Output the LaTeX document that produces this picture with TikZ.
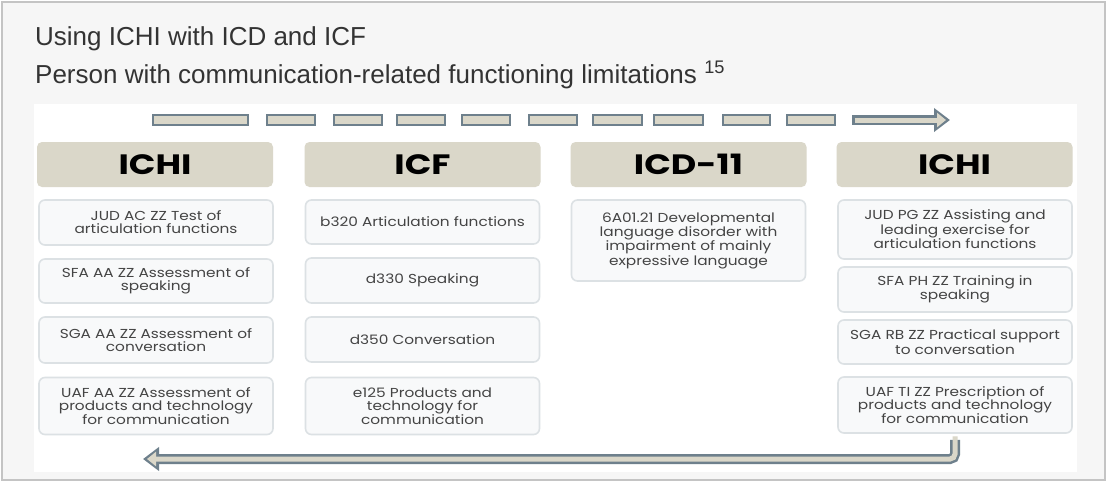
\documentclass[tikz,border=0pt]{standalone}
\usepackage{fontspec}
\setmainfont{Liberation Sans}
\newfontfamily\boxfont[FakeStretch=1.18]{Poppins}
\newfontfamily\headfont[FakeStretch=1.25]{Poppins}
\usetikzlibrary{arrows.meta}

\definecolor{slate}{HTML}{6E808C}
\definecolor{sand}{HTML}{DAD7C9}
\definecolor{itemline}{HTML}{DCE1E4}
\definecolor{itemfill}{HTML}{F8F9FA}
\definecolor{itemtext}{HTML}{444444}
\definecolor{pagebg}{HTML}{F6F6F6}
\definecolor{framegray}{HTML}{C4C4C4}
\definecolor{titlegray}{HTML}{333333}

\begin{document}
\begin{tikzpicture}[
		x=1pt, y=-1pt,
		head/.style={rectangle, rounded corners=5pt, fill=sand, minimum width=236pt, minimum height=45pt, font=\headfont\bfseries\fontsize{28}{30}\selectfont, text=black},
		item/.style={rectangle, rounded corners=6pt, draw=itemline, line width=1.6pt, fill=itemfill, minimum width=234pt, align=center, inner sep=2pt, font=\boxfont\fontsize{13}{13}\selectfont, text=itemtext},
		seg/.style={draw=slate, line width=2.4pt, fill=sand},
		flow/.style={draw=slate, line width=10pt, -{Triangle[length=16pt, width=23pt]},
			postaction={draw=sand, line width=5pt, shorten <=2.5pt, shorten >=4pt, -{Triangle[length=9pt, width=14pt]}}}
	]
		\useasboundingbox (0,0) rectangle (1107,482);
		
		% Frame and panel
		\draw[framegray, line width=2pt, fill=pagebg] (2,2) rectangle (1105,480);
		\fill[white] (34,104) rectangle (1077,472);
		
		% Titles
		\node[anchor=base west, inner sep=0pt, font=\fontsize{26}{30}\selectfont, text=titlegray] (title) at (35,45) {Using ICHI with ICD and ICF};
		\node[anchor=base west, inner sep=0pt, font=\fontsize{26}{30}\selectfont, text=titlegray] (subtitle) at (35,83) {Person with communication-related functioning limitations \textsuperscript{15}};
		
		% Dashed flow arrow
		\foreach \a/\b in {153/248,267/315,334/382,397/445,462/510,529/577,593/642,654/703,723/770,787/835}
			\draw[seg] (\a,115) rectangle (\b,125);
		\coordinate (flowA) at (852,120);
		\coordinate (flowB) at (950,120);
		\draw[flow] (flowA) -- (flowB);
		
		% Headers
		\node[head] (h1) at (155,164.5) {ICHI};
		\node[head] (h2) at (422.5,164.5) {ICF};
		\node[head] (h3) at (688.5,164.5) {ICD-11};
		\node[head] (h4) at (954.5,164.5) {ICHI};
		
		% ICHI (left)
		\node[item, minimum height=45pt] (l1) at (156,222.5) {JUD AC ZZ Test of\\articulation functions};
		\node[item, minimum height=44pt] (l2) at (156,281) {SFA AA ZZ Assessment of\\speaking};
		\node[item, minimum height=46pt] (l3) at (156,340) {SGA AA ZZ Assessment of\\conversation};
		\node[item, minimum height=57pt] (l4) at (156,406) {UAF AA ZZ Assessment of\\products and technology\\for communication};
		
		% ICF
		\node[item, minimum height=44pt] (f1) at (422.5,222) {b320 Articulation functions};
		\node[item, minimum height=45pt] (f2) at (422.5,280.5) {d330 Speaking};
		\node[item, minimum height=45pt] (f3) at (422.5,339.5) {d350 Conversation};
		\node[item, minimum height=57pt] (f4) at (422.5,406) {e125 Products and\\technology for\\communication};
		
		% ICD-11
		\node[item, minimum height=81pt] (d1) at (688.5,240.5) {6A01.21 Developmental\\language disorder with\\impairment of mainly\\expressive language};
		
		% ICHI (right)
		\node[item, minimum height=59pt] (r1) at (955,229.5) {JUD PG ZZ  Assisting and\\leading exercise for\\articulation functions};
		\node[item, minimum height=45pt] (r2) at (955,289.5) {SFA PH ZZ Training in\\speaking};
		\node[item, minimum height=44pt] (r3) at (955,342) {SGA RB ZZ Practical support\\to conversation};
		\node[item, minimum height=56pt] (r4) at (955,405) {UAF TI ZZ Prescription of\\products and technology\\for communication};
		
		% Loop back arrow
		\coordinate (back) at (143,459);
		\draw[flow, rounded corners=5pt, shorten <=6pt] (r4.south) |- (back);
	\end{tikzpicture}
\end{document}
